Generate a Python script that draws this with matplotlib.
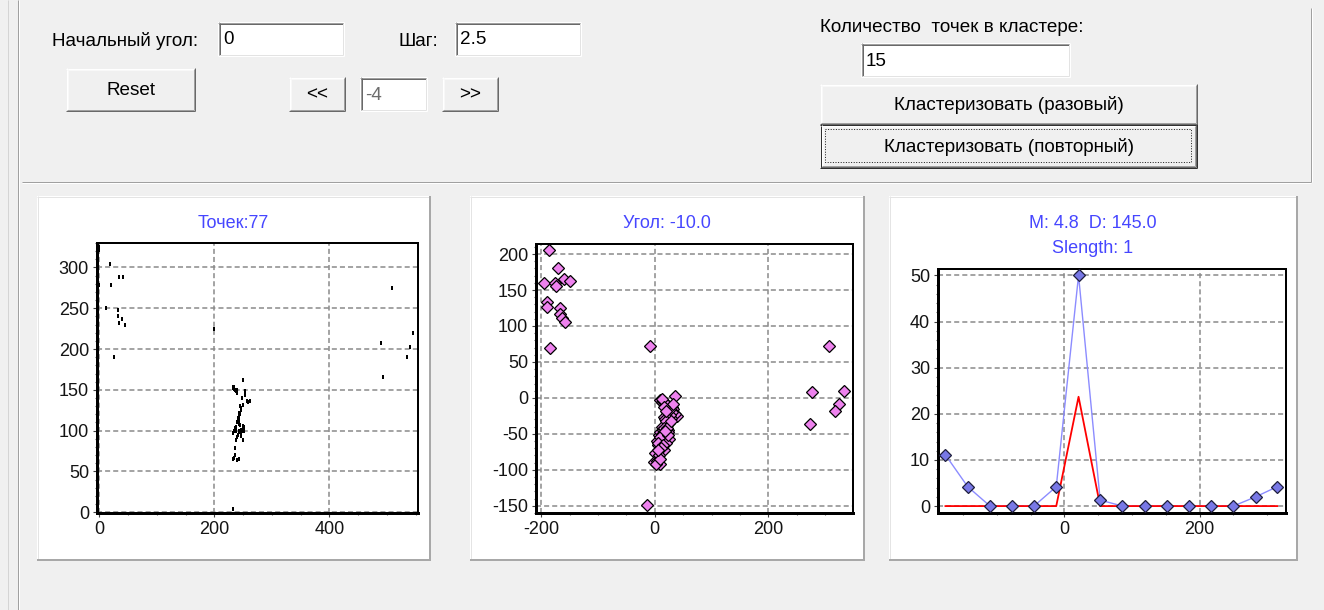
import matplotlib
matplotlib.use("Agg")
import matplotlib.pyplot as plt
from matplotlib.patches import Rectangle
from matplotlib.ticker import MultipleLocator

plt.rcParams['font.family'] = ['Liberation Sans', 'DejaVu Sans']
plt.rcParams['axes.unicode_minus'] = False

W, H = 1324, 610

# ---- raw points (original coordinates) ----
raw_x = [19, 20, 12, 35, 42, 32, 33, 39, 35, 45, 25, 0, 0, 0,
         200, 232,
         509, 546, 489, 540, 535, 494,
         232, 233, 235, 236, 238, 239, 234, 237, 250, 253, 256, 262, 259, 250, 246, 242,
         242, 245, 236, 238, 242, 246, 250, 249, 233, 249, 236, 233, 240, 242, 244, 247,
         240, 238, 244, 248, 252, 235, 237, 241, 246, 239, 240, 243, 241, 243, 251, 247,
         234, 238, 248, 254, 244, 239, 236]
raw_y = [304, 278, 250, 288, 288, 248, 240, 237, 232, 230, 190, 325, 278, 322,
         224, 4,
         275, 220, 207, 202, 190, 166,
         154, 152, 151, 150, 149, 147, 153, 148, 162, 148, 136, 136, 135, 131, 125, 118,
         113, 107, 103, 100, 100, 101, 102, 106, 97, 89, 79, 65, 64, 65, 120, 128,
         110, 102, 98, 99, 104, 100, 105, 95, 93, 150, 146, 122, 115, 108, 100, 97,
         66, 88, 140, 144, 130, 92, 70]

# ---- rotated points ----
rot_x = [-186, -170, -195, -175, -174, -160, -150, -189, -189, -167, -166, -163, -158, -185,
         -8, -14,
         306, 276, 334, 325, 318, 274,
         35, 10, 12, 15, 19, 22, 31, 33, 39, 36, 22, 16, 18, 25, 22, 13, 24, 7, 10, 4,
         16, 25, 20, 14, 16, 1, -2, 9, 4, 6, 28, 30, 26, 20, 17, 12, 9, 5, 27, 23,
         19, 14, 11, 8, 3, 21, 24, 18, 29, 32, 13, 17, 20, 9, 6]
rot_y = [205, 181, 160, 160, 155, 165, 162, 134, 127, 125, 116, 111, 106, 69,
         72, -149,
         72, 8, 9, -8, -18, -36,
         2, -3, -5, -4, -9, -10, -12, -16, -25, -22, -20, -27, -30, -35, -38, -40, -44, -51, -48, -60,
         -58, -57, -53, -45, -72, -76, -89, -92, -88, -66, -28, -20, -24, -32, -42, -50, -55, -62, -15, -48,
         -62, -66, -70, -80, -92, -42, -52, -46, -32, -8, -2, -12, -18, -85, -72]

# ---- histogram of the projection ----
bin_x = [-176, -143, -110, -78, -45, -12, 21, 53, 86, 119, 152, 184, 217, 250, 283, 315]
hist_counts = [11.1, 4.2, 0, 0, 0, 4.2, 50, 1.3, 0, 0, 0, 0, 0, 0, 2.0, 4.2]
hist_cluster = [0, 0, 0, 0, 0, 0, 23.7, 0, 0, 0, 0, 0, 0, 0, 0, 0]

n_points = 77
angle = -10.0
stat_m, stat_d, slength = 4.8, 145.0, 1

start_angle = "0"
step = "2.5"
step_index = "-4"
cluster_size = "15"

BG = '#F0F0F0'
TITLE_BLUE = '#4646FF'
UI_FS = 13.6

fig = plt.figure(figsize=(W / 100, H / 100), dpi=100, facecolor=BG)
ui = fig.add_axes([0, 0, 1, 1])
ui.set_xlim(0, W)
ui.set_ylim(H, 0)
ui.axis('off')
ui.set_facecolor(BG)


def hline(x0, x1, y, color, lw=1):
    ui.plot([x0, x1], [y + 0.5, y + 0.5], color=color, lw=lw * 0.72, solid_capstyle='butt')


def vline(x, y0, y1, color, lw=1):
    ui.plot([x + 0.5, x + 0.5], [y0, y1], color=color, lw=lw * 0.72, solid_capstyle='butt')


def edit_box(x0, y0, x1, y1, text, color='black'):
    ui.add_patch(Rectangle((x0, y0), x1 - x0, y1 - y0, facecolor='white', edgecolor='none'))
    hline(x0, x1, y0, '#A0A0A0')
    vline(x0, y0, y1, '#A0A0A0')
    hline(x0 + 1, x1 - 1, y0 + 1, '#696969')
    vline(x0 + 1, y0 + 1, y1 - 1, '#696969')
    hline(x0, x1, y1 - 1, '#FFFFFF')
    vline(x1 - 1, y0, y1, '#FFFFFF')
    hline(x0 + 1, x1 - 1, y1 - 2, '#E3E3E3')
    vline(x1 - 2, y0 + 1, y1 - 1, '#E3E3E3')
    ui.text(x0 + 5, (y0 + y1) / 2 + 1, text, fontsize=UI_FS, color=color, ha='left', va='center')


def button(x0, y0, x1, y1, text, focused=False):
    ui.add_patch(Rectangle((x0, y0), x1 - x0, y1 - y0, facecolor=BG, edgecolor='none'))
    if focused:
        hline(x0, x1, y0, '#303030')
        vline(x0, y0, y1, '#303030')
        hline(x0, x1, y1 - 1, '#303030')
        vline(x1 - 1, y0, y1, '#303030')
        x0, y0, x1, y1 = x0 + 1, y0 + 1, x1 - 1, y1 - 1
    hline(x0, x1 - 1, y0, '#FFFFFF')
    vline(x0, y0, y1 - 1, '#FFFFFF')
    hline(x0 + 1, x1 - 2, y0 + 1, '#F8F8F8')
    vline(x0 + 1, y0 + 1, y1 - 2, '#F8F8F8')
    hline(x0, x1, y1 - 1, '#696969')
    vline(x1 - 1, y0, y1, '#696969')
    hline(x0 + 1, x1 - 1, y1 - 2, '#A0A0A0')
    vline(x1 - 2, y0 + 1, y1 - 1, '#A0A0A0')
    if focused:
        ui.add_patch(Rectangle((x0 + 4, y0 + 4), x1 - x0 - 9, y1 - y0 - 9, facecolor='none',
                               edgecolor='#202020', lw=0.72, linestyle=(0, (1, 1.6))))
    ui.text((x0 + x1) / 2, (y0 + y1) / 2 + 1, text, fontsize=UI_FS, color='black',
            ha='center', va='center')


# group frames
vline(7, 0, H, '#D4D4D4')
vline(17, 0, H, '#A0A0A0')
vline(18, 0, H, '#FFFFFF')
hline(22, 1311, 181, '#A0A0A0')
hline(22, 1311, 182, '#FFFFFF')
vline(1310, 8, 182, '#A0A0A0')
vline(1311, 8, 182, '#FFFFFF')

# controls
ui.text(52, 41, 'Начальный угол:', fontsize=UI_FS, ha='left', va='center')
edit_box(218, 22, 344, 56, start_angle)
ui.text(398, 41, 'Шаг:', fontsize=UI_FS, ha='left', va='center')
edit_box(455, 22, 581, 56, step)
button(66, 68, 195, 111, 'Reset')
button(289, 77, 345, 111, '<<')
edit_box(360, 77, 427, 111, step_index, color='#6D6D6D')
button(442, 77, 498, 111, '>>')
ui.text(820, 27, 'Количество  точек в кластере:', fontsize=UI_FS, ha='left', va='center')
edit_box(861, 43, 1070, 77, cluster_size)
button(820, 84, 1197, 124, 'Кластеризовать (разовый)')
button(820, 124, 1197, 168, 'Кластеризовать (повторный)', focused=True)

# chart panels
panels = [(37, 196, 430, 560), (470, 196, 864, 560), (889, 196, 1297, 560)]
for (x0, y0, x1, y1) in panels:
    ui.add_patch(Rectangle((x0, y0), x1 - x0, y1 - y0, facecolor='white', edgecolor='none'))
    hline(x0, x1, y0, '#E4E4E4')
    vline(x0, y0, y1, '#E4E4E4')
    hline(x0, x1 + 1, y1 - 1, '#A8A8A8', lw=2)
    vline(x1 - 1, y0, y1, '#A8A8A8', lw=2)


def px_axes(x0, y0, x1, y1):
    return fig.add_axes([x0 / W, 1 - y1 / H, (x1 - x0) / W, (y1 - y0) / H])


def style_axes(ax, xmaj, xmin, ymaj, ymin):
    ax.set_facecolor('white')
    ax.xaxis.set_major_locator(MultipleLocator(xmaj))
    ax.xaxis.set_minor_locator(MultipleLocator(xmin))
    ax.yaxis.set_major_locator(MultipleLocator(ymaj))
    ax.yaxis.set_minor_locator(MultipleLocator(ymin))
    ax.grid(True, which='major', color='#8A8A8A', lw=1.1, linestyle=(0, (3.3, 2.0)))
    ax.set_axisbelow(True)
    for side in ('left', 'bottom'):
        ax.spines[side].set_linewidth(2.16)
    for side in ('top', 'right'):
        ax.spines[side].set_linewidth(1.44)
    for s in ax.spines.values():
        s.set_color('black')
    ax.tick_params(which='major', direction='out', length=3.2, width=0.8, color='#404040',
                   labelsize=13, labelcolor='#141414', pad=2.5)
    ax.tick_params(which='minor', direction='out', length=1.6, width=0.8, color='#606060')


def panel_title(panel, y, text):
    x0, _, x1, _ = panel
    fig.text((x0 + x1) / 2 / W, 1 - y / H, text, fontsize=13, color=TITLE_BLUE,
             ha='center', va='center')


# raw points
ax1 = px_axes(97, 243, 418, 513)
style_axes(ax1, 200, 50, 50, 10)
ax1.set_xlim(-4, 554)
ax1.set_ylim(-1, 330)
dash_marker = [(-0.5, -1), (0.5, -1), (0.5, 1), (-0.5, 1)]
ax1.plot(raw_x, raw_y, linestyle='none', marker=dash_marker, ms=3.4, color='black',
         mec='black', mew=0, clip_on=False, zorder=3)
panel_title(panels[0], 223, f'Точек:{n_points}')

# rotated points
ax2 = px_axes(536, 244, 853, 513)
style_axes(ax2, 200, 50, 50, 10)
ax2.set_xlim(-209, 349)
ax2.set_ylim(-160, 214)
ax2.plot(rot_x, rot_y, linestyle='none', marker='D', ms=5.8, mfc='#EE82EE', mec='black',
         mew=0.9, clip_on=False, zorder=3)
panel_title(panels[1], 223, f'Угол: {angle:.1f}')

# projection histogram
ax3 = px_axes(938, 269, 1286, 513)
style_axes(ax3, 200, 50, 10, 2)
ax3.set_xlim(-187, 328)
ax3.set_ylim(-1.5, 51.4)
ax3.plot(bin_x, hist_counts, color='#8C8CFF', lw=1.0, zorder=2)
ax3.plot(bin_x, hist_cluster, color='#FF0000', lw=1.3, zorder=3)
ax3.plot(bin_x, hist_counts, linestyle='none', marker='D', ms=5.8, mfc='#7878E6',
         mec='#1E1E3C', mew=0.9, clip_on=False, zorder=4)
panel_title(panels[2], 223, f'M: {stat_m:.1f}  D: {stat_d:.1f}')
panel_title(panels[2], 248, f'Slength: {slength}')

fig.savefig('out.png', dpi=100, facecolor=BG)
